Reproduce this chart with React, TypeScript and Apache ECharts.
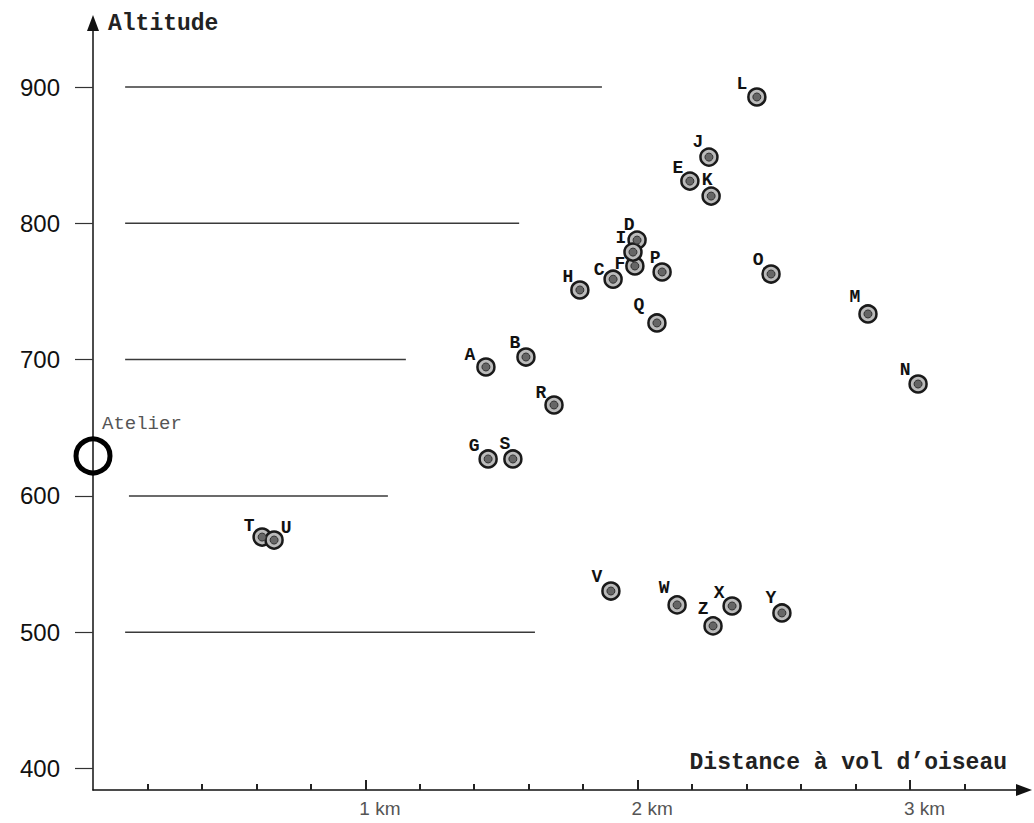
import React, { useEffect, useRef } from "react";
import * as echarts from "echarts";

// ---- data ----
const pointNames = ["A","B","C","D","E","F","G","H","I","J","K","L","M","N","O","P","Q","R","S","T","U","V","W","X","Y","Z"];
const distancesKm = [1.443,1.59,1.91,1.998,2.192,1.99,1.451,1.788,1.983,2.262,2.27,2.438,2.846,3.03,2.49,2.09,2.071,1.693,1.542,0.621,0.665,1.902,2.145,2.347,2.53,2.277];
const altitudes = [694.6,701.9,759,787.7,831,768.7,627.1,751.1,778.9,848.6,820,892.7,733.5,682.1,762.8,764.3,726.9,666.7,627.1,569.8,567.6,530.2,520,519.2,514.1,504.6];
// label offsets (style only): [dx, dy] in px from point centre
const labelOffsets: number[][] = [[-16,-12],[-11,-14],[-14,-9],[-8,-15],[-12,-13],[-15,-2],[-14,-13],[-12,-13],[-12,-14],[-11,-15],[-4,-16],[-15,-13],[-13,-17],[-13,-14],[-13,-14],[-7,-14],[-18,-18],[-13,-12],[-8,-15],[-13,-11],[12,-12],[-14,-14],[-13,-17],[-13,-13],[-11,-15],[-10,-17]];

const atelierDistance = 0;
const atelierAltitude = 629.3;

const levelAltitudes = [900, 800, 700, 600, 500];
const levelStarts = [0.118, 0.118, 0.118, 0.132, 0.118];
const levelEnds = [1.869, 1.565, 1.149, 1.083, 1.623];

const yTickValues = [400, 500, 600, 700, 800, 900];
const xMajorTicks = [1, 2, 3];
const xMinorTicks = [0.2, 0.4, 0.6, 0.8, 1.2, 1.4, 1.6, 1.8, 2.2, 2.4, 2.6, 2.8, 3.2];

const X_MIN = 0, X_MAX = 3.419;
const Y_MIN = 384.2, Y_MAX = 947.0;

const MONO = "'Liberation Mono', 'DejaVu Sans Mono', monospace";
const SANS = "'Liberation Sans', Arial, sans-serif";

export default function App() {
  const ref = useRef<HTMLDivElement>(null);
  useEffect(() => {
    if (!ref.current) return;
    const chart = echarts.init(ref.current, null, { renderer: "svg" });
    const pts = pointNames.map((n, i) => ({
      name: n,
      value: [distancesKm[i], altitudes[i]],
      label: { offset: labelOffsets[i] },
    }));
    const levelSeries = levelAltitudes.map((alt, i) => ({
      type: "line",
      data: [[levelStarts[i], alt], [levelEnds[i], alt]],
      symbol: "none",
      silent: true,
      lineStyle: { color: "#3a3a3a", width: 1.5 },
      z: 1,
    }));
    chart.setOption({
      animation: false,
      backgroundColor: "#fff",
      grid: { left: 93, right: 10, top: 23, bottom: 33, containLabel: false },
      xAxis: [
        {
          type: "value", min: X_MIN, max: X_MAX, position: "bottom",
          axisLine: { show: true, symbol: ["none", "triangle"], symbolSize: [12, 16], lineStyle: { color: "#111", width: 1.5 } },
          axisTick: { show: true, inside: true, length: 10, customValues: xMajorTicks, lineStyle: { color: "#222", width: 2 } },
          axisLabel: {
            show: true, customValues: xMajorTicks, formatter: (v: number) => `${v} km`,
            color: "#555", fontFamily: SANS, fontSize: 19, margin: 9, align: "left", padding: [0, 0, 0, -6],
          },
          splitLine: { show: false },
        },
        {
          type: "value", min: X_MIN, max: X_MAX, position: "bottom",
          axisLine: { show: false },
          axisTick: { show: true, inside: true, length: 6, customValues: xMinorTicks, lineStyle: { color: "#222", width: 2 } },
          axisLabel: { show: false },
          splitLine: { show: false },
        },
      ],
      yAxis: {
        type: "value", min: Y_MIN, max: Y_MAX,
        axisLine: { show: true, symbol: ["none", "triangle"], symbolSize: [12, 16], lineStyle: { color: "#111", width: 1.5 } },
        axisTick: { show: true, length: 18, customValues: yTickValues, lineStyle: { color: "#333", width: 1.2 } },
        axisLabel: { show: true, customValues: yTickValues, color: "#111", fontFamily: SANS, fontSize: 24, margin: 33 },
        splitLine: { show: false },
      },
      graphic: [
        { type: "text", left: 108, top: 12, style: { text: "Altitude", font: `bold 23px ${MONO}`, fill: "#222" } },
        { type: "text", right: 27, top: 751, style: { text: "Distance à vol d’oiseau", font: `bold 23px ${MONO}`, fill: "#222" } },
        { type: "text", left: 102, top: 414, style: { text: "Atelier", font: `19px ${MONO}`, fill: "#555" } },
      ],
      series: [
        ...levelSeries,
        {
          type: "scatter",
          data: pts,
          symbolSize: 17,
          itemStyle: { color: "#bbb", borderColor: "#1a1a1a", borderWidth: 2.5, opacity: 1 },
          label: {
            show: true, position: "inside", formatter: "{b}",
            fontFamily: MONO, fontWeight: "bold", fontSize: 18, color: "#111",
          },
          z: 3,
        },
        {
          type: "scatter",
          data: pointNames.map((n, i) => [distancesKm[i], altitudes[i]]),
          symbolSize: 8,
          itemStyle: { color: "#666", borderColor: "#333", borderWidth: 1, opacity: 1 },
          silent: true,
          z: 4,
        },
        {
          type: "scatter",
          data: [[atelierDistance, atelierAltitude]],
          symbolSize: 34,
          itemStyle: { color: "rgba(0,0,0,0)", borderColor: "#000", borderWidth: 5, opacity: 1 },
          silent: true,
          z: 5,
        },
      ],
    });
    return () => chart.dispose();
  }, []);
  return <div ref={ref} style={{ position: "fixed", left: 0, top: 0, width: 1034, height: 823 }} />;
}
